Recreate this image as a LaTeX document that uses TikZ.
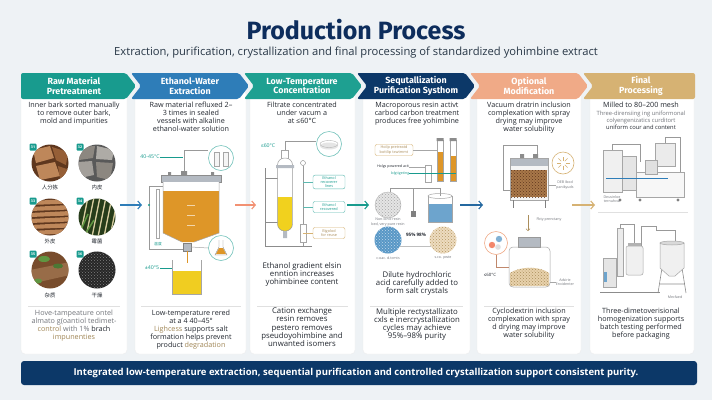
\documentclass[tikz,border=0pt]{standalone}
\usepackage{fontspec}
\setmainfont{Open Sans}
\newfontfamily\headfont{Fira Sans}
\newfontfamily\cjkfont{Noto Sans CJK SC}
\usetikzlibrary{arrows.meta,patterns}

\definecolor{bgcol}{RGB}{238,242,245}
\definecolor{titlecol}{RGB}{13,45,92}
\definecolor{subcol}{RGB}{40,55,70}
\definecolor{tealA}{RGB}{24,155,142}
\definecolor{blueB}{RGB}{46,125,184}
\definecolor{tealC}{RGB}{30,160,145}
\definecolor{navyD}{RGB}{12,56,104}
\definecolor{salmonE}{RGB}{240,170,135}
\definecolor{goldF}{RGB}{214,178,115}
\definecolor{textcol}{RGB}{35,40,48}
\definecolor{graytxt}{RGB}{115,118,124}
\definecolor{amber}{RGB}{222,150,40}
\definecolor{steel}{RGB}{180,186,194}
\definecolor{barkD}{RGB}{95,55,30}
\definecolor{barkM}{RGB}{150,95,55}
\definecolor{barkL}{RGB}{190,135,90}
\definecolor{plate}{RGB}{140,135,128}
\definecolor{straw}{RGB}{215,205,160}
\definecolor{leafG}{RGB}{95,150,65}

\tikzset{
  card/.style={fill=white, draw=black!7, rounded corners=4pt},
  head/.style={text=white, font=\headfont\bfseries\fontsize{8.9}{9.6}\selectfont, align=center},
  desc/.style={text=textcol, font=\fontsize{7.2}{8}\selectfont, align=center, inner sep=0pt},
  descL/.style={desc, font=\fontsize{7.8}{8.2}\selectfont},
  note/.style={desc, text=graytxt},
  tiny/.style={font=\fontsize{3.6}{4.3}\selectfont, text=graytxt, align=center, inner sep=0pt},
  tag/.style={font=\fontsize{5.2}{6}\selectfont, text=tealA, inner sep=0.5pt},
  cjk/.style={font=\cjkfont\fontsize{5.4}{6}\selectfont, text=textcol, inner sep=0pt},
  badge/.style={fill=tealA, rounded corners=1pt, text=white, font=\fontsize{3.6}{4}\selectfont\bfseries, minimum size=7pt, inner sep=0pt},
  flow/.style={-{Straight Barb[length=3.5pt,width=8pt]}, line width=1.1pt},
  divider/.style={draw=black!12, line width=0.5pt},
  lens/.style={circle, draw=tealA!60, fill=white, line width=0.6pt, minimum size=25pt, inner sep=0pt},
  glass/.style={draw=black!35, line width=0.5pt},
  pipe/.style={draw=black!40, line width=1pt},
  lbox/.style={draw=tealA!70, fill=white, rounded corners=2pt, font=\fontsize{3.8}{4.4}\selectfont, text=tealA, align=center, minimum width=32pt, minimum height=11pt, inner sep=1pt},
  granule/.style={circle, minimum size=27pt, inner sep=0pt, postaction={pattern=crosshatch dots, pattern color=#1}},
}

\begin{document}
\begin{tikzpicture}[x=1pt, y=-1pt]
\useasboundingbox (0,0) rectangle (712,400);
\fill[bgcol] (0,0) rectangle (712,400);

\node (title) at (356,30) [text=titlecol, font=\headfont\bfseries\fontsize{25}{28}\selectfont] {Production Process};
\node (subtitle) at (356,53) [text=subcol, font=\fontsize{11.2}{12}\selectfont] {Extraction, purification, crystallization and final processing of standardized yohimbine extract};

\draw[card] (21,90) rectangle (127,354);
\draw[card] (135,90) rectangle (246,354);
\draw[card] (250,90) rectangle (355,354);
\draw[card] (363,90) rectangle (470,354);
\draw[card] (477,90) rectangle (581,354);
\draw[card] (590,90) rectangle (694,354);

\fill[tealA, rounded corners=2pt] (21,73) -- (126,73) -- (136,86) -- (126,99) -- (21,99) -- cycle;
\fill[blueB, rounded corners=2pt] (131,73) -- (239,73) -- (249,86) -- (239,99) -- (131,99) -- (141,86) -- cycle;
\fill[tealC, rounded corners=2pt] (244,73) -- (352,73) -- (362,86) -- (352,99) -- (244,99) -- (254,86) -- cycle;
\fill[navyD, rounded corners=2pt] (357,73) -- (465,73) -- (475,86) -- (465,99) -- (357,99) -- (367,86) -- cycle;
\fill[salmonE, rounded corners=2pt] (470,73) -- (578,73) -- (588,86) -- (578,99) -- (470,99) -- (480,86) -- cycle;
\fill[goldF, rounded corners=2pt] (583,73) -- (695,73) -- (695,99) -- (583,99) -- (593,86) -- cycle;

\node (h1) at (74,86) [head] {Raw Material\\Pretreatment};
\node (h2) at (190,86) [head] {Ethanol-Water\\Extraction};
\node (h3) at (302,86) [head] {Low-Temperature\\Concentration};
\node (h4) at (416,86) [head] {Sequtallization\\Purification Systhom};
\node (h5) at (529,86) [head] {Optional\\Modification};
\node (h6) at (641,86) [head] {Final\\Processing};

% raw material
\node (t1) at (74,102) [desc, anchor=north] {Inner bark sorted manually\\to remove outer bark,\\mold and impurities};
\begin{scope}
  \clip (50,163) circle (18.5);
  \fill[barkD] (30,143) rectangle (70,183);
  \fill[barkL] (33,150) -- (50,146) -- (54,158) -- (36,163) -- cycle;
  \fill[barkM] (52,147) -- (68,152) -- (66,165) -- (56,160) -- cycle;
  \fill[barkL] (36,166) -- (55,162) -- (60,176) -- (40,180) -- cycle;
  \fill[barkM] (58,166) -- (70,170) -- (68,183) -- (60,178) -- cycle;
\end{scope}
\begin{scope}
  \clip (97,163) circle (18.5);
  \fill[black!65] (77,143) rectangle (117,183);
  \fill[plate] (80,147) -- (95,146) -- (93,158) -- (79,160) -- cycle;
  \fill[plate!70!white] (97,146) -- (114,150) -- (112,160) -- (96,159) -- cycle;
  \fill[plate!80!white] (78,162) -- (92,161) -- (94,175) -- (80,178) -- cycle;
  \fill[plate] (96,162) -- (113,163) -- (110,180) -- (97,177) -- cycle;
\end{scope}
\begin{scope}
  \clip (50,217) circle (18.5);
  \fill[barkD] (30,197) rectangle (70,237);
  \foreach \yy in {201,207,213,219,225,231}
    \fill[barkL] (30,\yy) -- (70,{\yy-2}) -- (70,{\yy+2.5}) -- (30,{\yy+4}) -- cycle;
\end{scope}
\begin{scope}
  \clip (97,217) circle (18.5);
  \fill[black!60!leafG] (77,197) rectangle (117,237);
  \foreach \xx in {80,86,92,98,104,110}
    \draw[straw, line width=1.3pt] (\xx,237) -- ({\xx+8},197);
  \draw[leafG, line width=1.5pt] (80,232) -- (88,214) (84,236) -- (94,220);
\end{scope}
\begin{scope}
  \clip (50,270) circle (18.5);
  \fill[barkM!80!black] (30,250) rectangle (70,290);
  \fill[barkL!80!black] (30,270) -- (70,262) -- (70,275) -- (30,284) -- cycle;
  \fill[leafG] (44,259) ellipse (6 and 3);
  \fill[leafG!80!black] (58,266) ellipse (5 and 2.5);
  \fill[leafG] (38,281) ellipse (4 and 2.5);
\end{scope}
\begin{scope}
  \clip (97,270) circle (18.5);
  \fill[black!85] (77,250) rectangle (117,290);
  \fill[pattern=crosshatch dots, pattern color=black!50] (77,250) rectangle (117,290);
\end{scope}
\node (b1) at (33,147) [badge] {31};
\node (b2) at (80,147) [badge] {32};
\node (b3) at (33,201) [badge] {33};
\node (b4) at (80,201) [badge] {34};
\node (b5) at (33,254) [badge] {35};
\node (b6) at (80,254) [badge] {36};
\node (l1) at (50,187) [cjk] {人分拣};
\node (l2) at (97,187) [cjk] {内皮};
\node (l3) at (50,241) [cjk] {外皮};
\node (l4) at (97,241) [cjk] {霉菌};
\node (l5) at (50,295) [cjk] {杂质};
\node (l6) at (97,295) [cjk] {干燥};
\draw[divider] (28,306) -- (120,306);
\node (n1) at (74,309.5) [note, anchor=north] {Hove-tampeature ontel\\almato g(oantiol tedimet-\\{\color{goldF!75!black}control} with 1\% {\color{textcol}brach}\\{\color{goldF!75!black}impunenties}};

% extraction
\node (t2) at (191,102) [desc, anchor=north] {Raw material refluxed 2–\\3 times in sealed\\vessels with alkaline\\ethanol-water solution};
\draw[pipe] (184,176) -- (184,150) -- (208,150);
\node (lensA) at (221,158) [lens] {};
\draw[glass, fill=black!4] (214,152) rectangle (219,166) (223,152) rectangle (228,166);
\node (tagA) at (150,157) [tag] {40-45°C};
\draw[tealA, line width=0.4pt] (tagA.east) -- (183,157);
\fill[steel] (161,175) rectangle (221,182);
\draw[black!45, line width=0.4pt] (161,175) rectangle (221,182);
\fill[black!45] (168,172) rectangle (171,175) (211,172) rectangle (214,175) (181,171) rectangle (187,175);
\fill[white] (163,182) rectangle (219,233);
\fill[amber] (163,191) rectangle (219,233);
\fill[amber] (163,233) -- (219,233) -- (194,242) -- (182,242) -- cycle;
\draw[glass] (163,182) -- (163,233) -- (182,242) (219,182) -- (219,233) -- (194,242);
\draw[amber!40!white, line width=0.4pt] (187,205) -- (195,205) (187,215) -- (195,215) (187,225) -- (195,225);
\draw[black!40, line width=0.5pt] (163,186) -- (149,186) -- (149,249) -- (183,249);
\fill[tealA] (149,205) circle (1.2);
\draw[glass, fill=white] (156,189) rectangle (159,238);
\node (tagT) at (158,244) [tag, font=\cjkfont\fontsize{3.8}{4}\selectfont] {温度};
\fill[steel] (183,243) rectangle (191,251);
\draw[black!50, line width=0.4pt] (183,243) rectangle (191,251);
\draw[amber, line width=1pt] (187,251) -- (187,263);
\node (lensB) at (221,248) [lens] {};
\draw[black!35, line width=0.5pt] (191,247) -- (lensB.west);
\fill[amber] (216,254) -- (226,254) -- (223,248) -- (219,248) -- cycle;
\draw[black!50, line width=0.4pt] (219,240) -- (219,247) -- (215,255) -- (227,255) -- (223,247) -- (223,240);
\fill[yellow!55!amber] (172,271) rectangle (201,294);
\draw[glass] (172,260) -- (172,294) -- (201,294) -- (201,260);
\node (tagB) at (152,268) [tag] {±40°5};
\draw[tealA, line width=0.4pt] (tagB.east) -- (172,268);
\draw[divider] (141,306) -- (241,306);
\node (n2) at (191,309.5) [desc, anchor=north] {Low-temperature rered\\at a 4 40–45°\\{\color{goldF!75!black}Lighcess} supports salt\\formation helps prevent\\product {\color{goldF!75!black}degradation}};

% concentration
\node (t3) at (302,102) [desc, anchor=north] {Filtrate concentrated\\under vacum a\\at ≤60°C};
\draw[black!45, line width=0.8pt] (265,168) -- (265,246) -- (312,246);
\draw[black!45, line width=0.5pt] (265,178) -- (278,178) (265,222) -- (278,222);
\draw[pipe] (285,152) -- (285,141) -- (316,141);
\node (lensC) at (329,144) [lens] {};
\fill[black!10] (329,146) ellipse (9 and 3.5);
\draw[black!30, line width=0.4pt] (329,144) ellipse (9 and 3.5);
\node (tagC) at (268,146) [tag] {≤60°C};
\draw[glass, fill=white] (281.5,150) rectangle (288.5,159);
\begin{scope}
  \clip[rounded corners=7pt] (277.5,158) rectangle (292.5,231);
  \fill[white] (277,157) rectangle (293,232);
  \fill[yellow!60!amber] (277,197) rectangle (293,232);
\end{scope}
\draw[black!40, line width=0.5pt, rounded corners=7pt] (277.5,158) rectangle (292.5,231);
\fill[steel] (276,165) rectangle (294,168) (283,231) rectangle (287,238);
\coordinate (rodC) at (303,0);
\draw[black!40, line width=0.5pt] (303,166) -- (303,246);
\draw[black!50, line width=0.4pt, fill=white] (303,163) circle (2.5);
\draw[glass, fill=white] (300,224) rectangle (306,242);
\node (bx1) at (329,182) [lbox] {Ethanol\\recoverer\\lines};
\node (bx2) at (329,207) [lbox] {Ethanol\\recovered};
\node (bx3) at (329,233) [lbox, draw=goldF, text=goldF!80!black] {Bigolod\\for reuse};
\draw[tealA!70, line width=0.4pt] (bx1.west -| rodC) -- (bx1.west) (bx2.west -| rodC) -- (bx2.west);
\draw[goldF, line width=0.4pt] (bx3.west -| rodC) -- (bx3.west);
\node (m3) at (302,262) [descL, anchor=north] {Ethanol gradient elsin\\enntion increases\\yohimbinee content};
\draw[divider] (257,306) -- (348,306);
\node (n3) at (302,307.5) [descL, anchor=north] {Cation exchange\\resin removes\\pestero removes\\pseudoyohimbine and\\unwanted isomers};

% purification
\node (t4) at (417,102) [desc, anchor=north] {Macroporous resin activt\\carbod carbon treatment\\produces free yohimbine};
\fill[amber] (437,152) rectangle (443,181) (450,156) rectangle (456,181);
\draw[glass] (437,140) rectangle (443,181) (450,140) rectangle (456,181) (425,165) rectangle (431,182);
\fill[black!45] (436.5,138) rectangle (443.5,141) (449.5,138) rectangle (456.5,141);
\node (gb) at (394,150) [lbox, draw=goldF, text=goldF!80!black, minimum width=38pt] {Hoilp pretreatd\\bottlip txwtmmt};
\coordinate (tubeA) at (437,0);
\coordinate (tubeB) at (456,0);
\draw[black!35, line width=0.4pt] (gb.east) -- (gb.east -| tubeA);
\node (pa) at (393,167) [tiny, text=textcol] {Holgs powered acit};
\draw[black!35, line width=0.4pt] (pa.east) -- (425,167);
\node (lg) at (400,173.5) [tiny, text=tealA] {lolgtigeting};
\draw[tealA, line width=0.5pt] (lg.east) -- (lg.east -| tubeB);
\draw[pipe] (390,192) -- (390,188) -- (440,188) -- (440,196);
\draw[pipe] (413,188) -- (413,211);
\fill[black!50] (410.5,211) rectangle (415.5,217);
\fill[white] (428,196) rectangle (452,222);
\fill[blueB!70] (428,204) rectangle (452,222);
\draw[glass] (428,196) -- (428,222) -- (452,222) -- (452,196);
\draw[glass] (440,196) ellipse (12 and 2.5);
\node (resin) at (388,205) [circle, minimum size=26pt, inner sep=0pt, fill=black!10, draw=black!30, line width=0.4pt, postaction={pattern=crosshatch dots, pattern color=black!35}] {};
\node (rl) at (388,222) [tiny] {Non-ionic resin\\bed, very pure resin};
\node (gran1) at (388,240) [granule=white!70!blueB, fill=blueB!80] {};
\node (gran2) at (443,240) [granule=goldF!85!black, fill=goldF!45] {};
\draw[black!25, line width=0.5pt] (gran1.-25) -- (gran2.205);
\node (pct) at (416,235) [font=\bfseries\fontsize{4.6}{5}\selectfont, text=textcol, inner sep=0pt] {95\% 98\%};
\node (g1l) at (388,258) [tiny] {c-oac. d.tcmts};
\node (g2l) at (443,258) [tiny] {s.co. pwte};
\node (m4) at (417,271) [descL, anchor=north] {Dilute hydrochloric\\acid carefully added to\\form salt crystals};
\draw[divider] (370,306) -- (463,306);
\node (n4) at (417,308) [descL, anchor=north] {Multiple rectystallizato\\cxls e inercrystallization\\cycles may achieve\\95\%–98\% purity};

% modification
\node (t5) at (529,102) [desc, anchor=north] {Vacuum dratrin inclusion\\complexation with spray\\drying may improve\\water solubility};
\draw[pipe, line width=0.8pt] (510,190) -- (503,190) -- (503,145) -- (537,145) -- (537,158);
\fill[steel] (510,158) rectangle (548,166);
\fill[black!4] (510,166) rectangle (548,200);
\fill[barkM!70!goldF] (511,170) rectangle (547,197);
\fill[pattern=crosshatch dots, pattern color=barkD] (511,170) rectangle (547,197);
\draw[glass] (510,158) rectangle (548,200);
\fill[black!45] (520,154) rectangle (524,158) (533,154) rectangle (538,158);
\draw[black!50, line width=1pt] (513,200) -- (513,208) (545,200) -- (545,208);
\node (lensD) at (563,163) [lens, draw=goldF, minimum size=22pt] {};
\foreach \a in {0,45,...,315}
  \draw[goldF, line width=0.5pt] (563,163) ++(\a:2.5) -- ++(\a:4);
\node (dl) at (565,185) [tiny] {DEB Ibod\\panikyuds};
\draw[black!35, line width=0.4pt] (548,185) -- (dl.west);
\coordinate (dropA) at (528,215);
\coordinate (dropB) at (528,231);
\draw[-{Straight Barb[length=2pt,width=4pt]}, goldF!80!black, line width=0.5pt] (dropA) -- (dropB);
\node (fl) at (549,220) [tiny] {Fbty prenctany};
\fill[steel] (518,237) rectangle (540,247);
\draw[black!40, line width=0.4pt] (518,237) rectangle (540,247);
\fill[goldF!60] (510,286) -- (510,273) .. controls (520,266) and (540,266) .. (549,273) -- (549,286) -- cycle;
\fill[pattern=crosshatch dots, pattern color=goldF!80!black] (510,286) -- (510,273) .. controls (520,266) and (540,266) .. (549,273) -- (549,286) -- cycle;
\draw[glass, rounded corners=4pt] (509,247) rectangle (550,287);
\node (lensE) at (496,243) [lens, draw=salmonE, minimum size=23pt] {};
\fill[blueB!60] (499,239) circle (3.2);
\fill[salmonE!80!red] (492,245) circle (3.2);
\fill[black!12] (498,247) circle (2.8);
\draw[salmonE!80!black, line width=0.4pt] (lensE.south) -- (496,267) -- (509,267);
\node (tl) at (490,275) [tiny, text=textcol, font=\fontsize{4.4}{5}\selectfont] {≤60°C};
\node (al) at (565,282) [tiny] {Adsirie\\Enxidenter};
\draw[black!35, line width=0.4pt] (550,282) -- (al.west);
\draw[divider] (484,306) -- (574,306);
\node (n5) at (529,308) [desc, anchor=north] {Cyclodextrin inclusion\\complexation with spray\\d drying may improve\\water solubility};

% final
\node (t6) at (641,102) [desc, anchor=north] {Milled to 80–200 mesh};
\node (t6b) at (641,110.5) [note, anchor=north, font=\fontsize{5.8}{7.4}\selectfont] {Three-dirensiing ing uniformonal\\colyengenizatics curditort\\{\color{textcol}uniform cour and content}};
\draw[pipe, line width=0.6pt] (612,150) -- (612,144) -- (640,144) -- (640,162) (665,143) -- (665,137) -- (680,137) -- (680,172);
\draw[glass, fill=black!6] (603,150) rectangle (622,192);
\draw[glass, fill=black!10] (622,156) rectangle (636,190);
\draw[glass, fill=black!3] (636,172) rectangle (684,197);
\draw[glass, fill=black!8] (655,143) rectangle (675,166);
\draw[glass, fill=black!12] (645,160) rectangle (657,174);
\draw[blueB, line width=1pt] (606,178) -- (668,178);
\fill[black!50] (620,200) circle (1.6) (640,200) circle (1.6) (678,200) circle (1.6);
\node (ml) at (612,199) [tiny] {Deusinloe\\ternuhvul};
\draw[divider] (598,212) -- (688,212);
\draw[pipe, line width=0.6pt] (620,228) -- (620,224) -- (634,224) -- (634,243) (641,246) -- (641,226) -- (656,226) -- (656,230) -- (675,230) -- (675,243);
\draw[glass, fill=black!8] (617,228) rectangle (623,276);
\draw[glass, fill=black!6, rounded corners=2pt] (626,246) rectangle (643,275);
\fill[black!30] (628,243) rectangle (641,246);
\draw[black!45, line width=0.6pt] (662,268) -- (658,293) (682,268) -- (686,293) (660,284) -- (684,284);
\draw[glass, fill=black!6] (660,243) -- (684,243) -- (684,268) -- (675,276) -- (669,276) -- (660,268) -- cycle;
\draw[glass, fill=black!15] (672,243) ellipse (12 and 2);
\draw[glass, fill=black!10] (603,258) rectangle (616,287);
\fill[blueB!70] (604,272) rectangle (607,282);
\draw[black!45, line width=0.8pt] (600,292) -- (660,292);
\node (el) at (675,297) [tiny] {Mecfaed};
\node (n6) at (641,308) [desc, anchor=north] {Three-dimetoverisional\\homogenization supports\\batch testing performed\\before packaging};

\coordinate (f1a) at (120,205); \coordinate (f1b) at (142,205);
\coordinate (f2a) at (235,205); \coordinate (f2b) at (256,205);
\coordinate (f3a) at (347,205); \coordinate (f3b) at (369,205);
\coordinate (f4a) at (460,205); \coordinate (f4b) at (483,205);
\coordinate (f5a) at (572,205); \coordinate (f5b) at (595,205);
\draw[flow, blueB] (f1a) -- (f1b);
\draw[flow, salmonE!85!red] (f2a) -- (f2b);
\draw[flow, tealA] (f3a) -- (f3b);
\draw[flow, blueB!70!navyD] (f4a) -- (f4b);
\draw[flow, goldF] (f5a) -- (f5b);

\fill[navyD, rounded corners=3pt] (21,361) rectangle (697,385);
\node (footer) at (356,373) [text=white, font=\bfseries\fontsize{9.5}{10}\selectfont] {Integrated low-temperature extraction, sequential purification and controlled crystallization support consistent purity.};
\end{tikzpicture}
\end{document}
